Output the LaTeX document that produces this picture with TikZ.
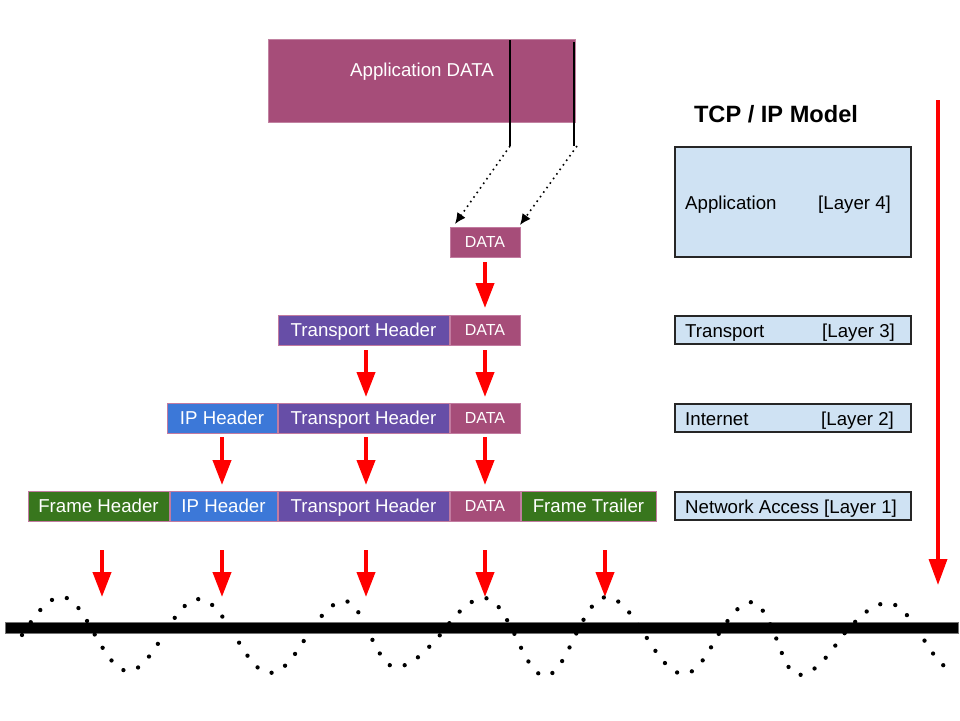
\documentclass[tikz,border=0pt]{standalone}
\usepackage{fontspec}
\setmainfont{Liberation Sans}
\usetikzlibrary{arrows.meta}
\definecolor{appc}{HTML}{A64D79}
\definecolor{trc}{HTML}{674EA7}
\definecolor{ipc}{HTML}{3C78D8}
\definecolor{frc}{HTML}{38761D}
\definecolor{layc}{HTML}{CFE2F3}
\definecolor{bdc}{HTML}{C27BA0}
\tikzset{
  pbox/.style={draw=bdc, line width=1pt, inner sep=0pt, outer sep=0pt, text=white,
    font=\fontsize{18.67}{20}\selectfont, text height=13.4pt, text depth=0pt, minimum height=30pt},
  sbox/.style={pbox, font=\fontsize{16}{18}\selectfont, text height=11.5pt},
  lbox/.style={draw=black!85, line width=1.5pt, fill=layc, inner sep=0pt, outer sep=0pt, minimum width=236pt},
  ltext/.style={inner sep=0pt, anchor=west, font=\fontsize{18.67}{20}\selectfont, text height=13.4pt, text depth=0pt},
  rarr/.style={draw=red, line width=4pt, -{Triangle[width=18pt,length=25pt]}},
  dotarr/.style={draw=black, line width=1.6pt, dash pattern=on 1.6pt off 4pt, -{Latex[length=11pt,width=10pt]}},
  wave/.style={draw=black, line width=4.3pt, dash pattern=on 0pt off 15.5pt, line cap=round},
}
\begin{document}
\begin{tikzpicture}[x=1pt,y=-1pt]
\useasboundingbox (0,0) rectangle (960,720);

% application data
\node[pbox, fill=appc, draw=appc!70, minimum width=307pt, minimum height=83pt, anchor=north west] (app) at (268,39) {};
\node[inner sep=0pt, text=white, font=\fontsize{18.67}{20}\selectfont, text height=13.4pt, text depth=0pt] (applbl) at (422,69.5) {Application DATA};
\coordinate (v1a) at (510,40);
\coordinate (v1b) at (510,146);
\coordinate (v2a) at (574,42);
\coordinate (v2b) at (574,146);
\draw[line width=2pt] (v1a) -- (v1b);
\draw[line width=2pt] (v2a) -- (v2b);

\node[sbox, fill=appc, minimum width=70pt] (d1) at (485,242) {DATA};
\draw[dotarr] (v1b) -- ([xshift=5pt,yshift=3pt]d1.north west);
\draw[dotarr] ([xshift=3pt]v2b) -- ([yshift=2pt]d1.north east);

% row 2
\node[pbox, fill=trc, minimum width=171pt] (tr2) at (363.5,330) {Transport Header};
\node[sbox, fill=appc, minimum width=70pt] (d2) at (485,330) {DATA};
% row 3
\node[pbox, fill=ipc, minimum width=110pt] (ip3) at (222,418) {IP Header};
\node[pbox, fill=trc, minimum width=171pt] (tr3) at (363.5,418) {Transport Header};
\node[sbox, fill=appc, minimum width=70pt] (d3) at (485,418) {DATA};
% row 4
\node[pbox, fill=frc, minimum width=141pt] (fh) at (98.5,506) {Frame Header};
\node[pbox, fill=ipc, minimum width=107pt] (ip4) at (223.5,506) {IP Header};
\node[pbox, fill=trc, minimum width=171pt] (tr4) at (363.5,506) {Transport Header};
\node[sbox, fill=appc, minimum width=70pt] (d4) at (485,506) {DATA};
\node[pbox, fill=frc, minimum width=135pt] (ft) at (588.5,506) {Frame Trailer};

% red arrows between rows
\draw[rarr, shorten <=5pt, shorten >=7pt] (d1.south) -- (d2.north);
\draw[rarr, shorten <=5pt, shorten >=6pt] ([xshift=2.5pt]tr2.south) -- ([xshift=2.5pt]tr3.north);
\draw[rarr, shorten <=5pt, shorten >=6pt] (d2.south) -- (d3.north);
\draw[rarr, shorten <=4pt, shorten >=6pt] (ip3.south) -- (ip3.south |- ip4.north);
\draw[rarr, shorten <=4pt, shorten >=6pt] ([xshift=2.5pt]tr3.south) -- ([xshift=2.5pt]tr4.north);
\draw[rarr, shorten <=4pt, shorten >=6pt] (d3.south) -- (d4.north);

% arrows to the medium
\coordinate (w1) at (102,597);
\coordinate (w2) at (222,597);
\coordinate (w3) at (366,597);
\coordinate (w4) at (485,597);
\coordinate (w5) at (605,597);
\draw[rarr, shorten <=29pt] (fh.south -| w1) -- (w1);
\draw[rarr, shorten <=29pt] (ip4.south -| w2) -- (w2);
\draw[rarr, shorten <=29pt] (tr4.south -| w3) -- (w3);
\draw[rarr, shorten <=29pt] (d4.south -| w4) -- (w4);
\draw[rarr, shorten <=29pt] (ft.south -| w5) -- (w5);

% medium line
\draw[fill=black, draw=black!55, line width=0.6pt] (5,622) rectangle (958,633);

% signal wave
\draw[wave] (22,635) sin (62,597) cos (95,635) sin (128,671) cos (163.5,635) sin (199,599)
  cos (234.5,635) sin (270,673) cos (307.5,635) sin (345,601) cos (370,635) sin (395,667)
  cos (440,635) sin (485,598) cos (515,635) sin (545,676) cos (575.5,635) sin (606,597)
  cos (645,635) sin (684,674) cos (718,635) sin (752,602) cos (775,635) sin (798,675)
  cos (843,635) sin (888,603) cos (921,635) sin (956,671);

% TCP/IP model
\node[inner sep=0pt, font=\bfseries\fontsize{23.6}{26}\selectfont, text height=17pt, text depth=0pt] (title) at (776,114) {TCP / IP Model};
\node[lbox, minimum height=110pt] (l4) at (793,202) {};
\node[lbox, minimum height=28pt] (l3) at (793,330) {};
\node[lbox, minimum height=28pt] (l2) at (793,418) {};
\node[lbox, minimum height=28pt] (l1) at (793,506) {};
\node[ltext] (l4a) at (685,203) {Application};
\node[ltext] (l4b) at (818,203) {[Layer 4]};
\node[ltext] (l3a) at (685,331) {Transport};
\node[ltext] (l3b) at (822,331) {[Layer 3]};
\node[ltext] (l2a) at (685,419) {Internet};
\node[ltext] (l2b) at (821,419) {[Layer 2]};
\node[ltext] (l1a) at (685,507) {Network Access [Layer 1]};

% big red arrow
\coordinate (bt) at (938,100);
\coordinate (bb) at (938,585);
\draw[draw=red, line width=3.5pt, -{Triangle[width=18pt,length=26pt]}] (bt) -- (bb);
\end{tikzpicture}
\end{document}
